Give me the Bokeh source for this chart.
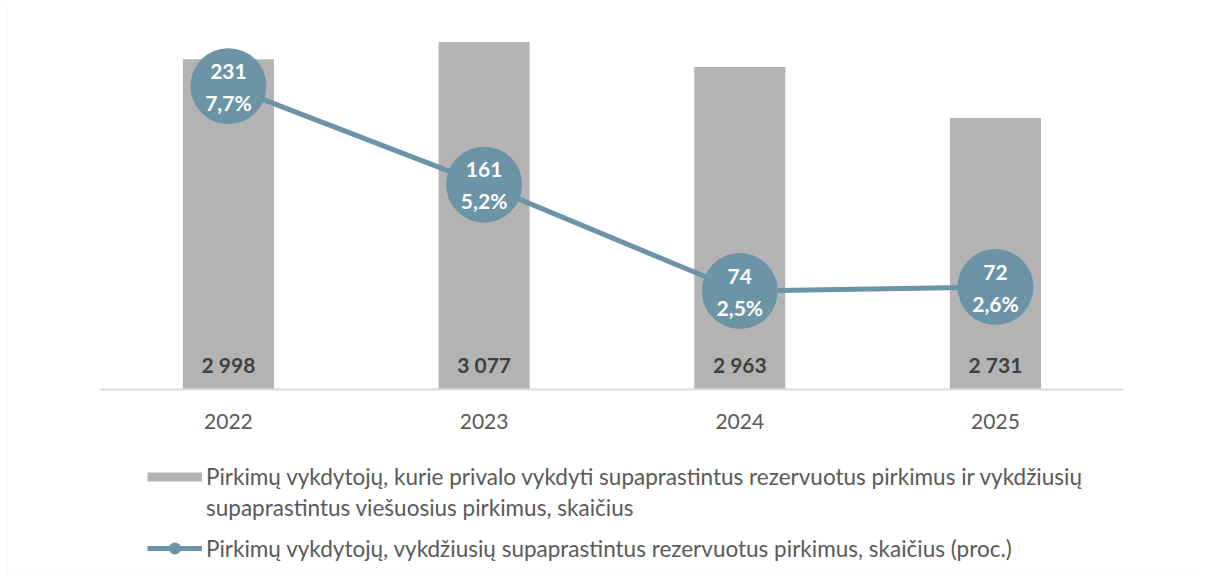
from bokeh.plotting import figure
from bokeh.models import (Range1d, Legend, LegendItem, BoxAnnotation, ColumnDataSource)
from bokeh.embed import file_html
from bokeh.resources import INLINE
from bokeh.core.properties import value

# ---- data ----
years = ["2022", "2023", "2024", "2025"]
buyers_total = [2998, 3077, 2963, 2731]
buyers_reserved = [231, 161, 74, 72]
reserved_pct = [7.7, 5.2, 2.5, 2.6]

bar_label_1 = "Pirkimų vykdytojų, kurie privalo vykdyti supaprastintus rezervuotus pirkimus ir vykdžiusių"
bar_label_2 = "supaprastintus viešuosius pirkimus, skaičius"
line_label = "Pirkimų vykdytojų, vykdžiusių supaprastintus rezervuotus pirkimus, skaičius (proc.)"

# ---- style ----
BAR = "#b3b3b3"
LINE = "#6b94a7"
FONT = "Lato"
W, H = 1199, 573
BASE = 1495                      # bar axis start (baseline)
Y0, Y1 = 657.5, 3238.3           # bar scale (frame covers whole chart box)
P0, P1 = -4.670, 9.721           # percent scale, 0 at baseline
X0, X1 = -0.368, 4.298           # category slots 0..4

pos = [i + 0.5 for i in range(len(years))]

src = ColumnDataSource(dict(
    x=pos,
    year=years,
    total=buyers_total,
    reserved=buyers_reserved,
    pct=reserved_pct,
    total_lbl=[f"{v:,}".replace(",", " ") for v in buyers_total],
    res_lbl=[str(v) for v in buyers_reserved],
    pct_lbl=[f"{v:.1f}".replace(".", ",") + "%" for v in reserved_pct],
    base=[BASE] * len(years),
))

p = figure(width=W, height=H,
           x_range=Range1d(X0, X1), y_range=Range1d(Y0, Y1),
           x_axis_location=None, y_axis_location=None,
           output_backend="svg", toolbar_location=None,
           min_border_left=6, min_border_right=0,
           min_border_top=6, min_border_bottom=0)
p.extra_y_ranges = {"pct": Range1d(P0, P1)}
p.outline_line_color = None
p.xgrid.visible = False
p.ygrid.visible = False
p.background_fill_color = "white"
p.border_fill_color = "white"

# chart box border (top and left edges visible)
border = BoxAnnotation(left=0, right=W + 20, top=0, bottom=H + 20,
                       left_units="screen", right_units="screen",
                       top_units="screen", bottom_units="screen",
                       fill_alpha=0, line_color="#d9d9d9", line_width=2)
p.add_layout(border)

bars = p.vbar(x="x", top="total", bottom="base", width=0.356, source=src,
              fill_color=BAR, line_color=None)

# category axis baseline
p.segment(x0=[0], x1=[len(years)], y0=[BASE], y1=[BASE],
          line_color="#d9d9d9", line_width=2)

# category labels
p.text(x="x", y="base", text="year", source=src, y_offset=32,
       text_align="center", text_baseline="middle",
       text_font=value(FONT), text_font_size="21px", text_color="#595959")

# bar value labels
p.text(x="x", y="base", text="total_lbl", source=src, y_offset=-25,
       text_align="center", text_baseline="middle",
       text_font=value(FONT), text_font_size="21px", text_font_style="bold",
       text_color="#404040")

ln = p.line(x="x", y="pct", source=src, y_range_name="pct",
            line_color=LINE, line_width=5)
dots = p.scatter(x="x", y="pct", source=src, y_range_name="pct",
                 size=76, fill_color=LINE, line_color=None)

p.text(x="x", y="pct", text="res_lbl", source=src, y_range_name="pct",
       y_offset=-15, text_align="center", text_baseline="middle",
       text_font=value(FONT), text_font_size="21px", text_font_style="bold",
       text_color="white")
p.text(x="x", y="pct", text="pct_lbl", source=src, y_range_name="pct",
       y_offset=16, text_align="center", text_baseline="middle",
       text_font=value(FONT), text_font_size="21px", text_font_style="bold",
       text_color="white")

# legend proxies (a single empty point, not visible in the plot)
nan = float("nan")
bar_proxy = p.line(x=[nan], y=[nan], line_color=BAR, line_width=9, line_cap="butt")
blank_proxy = p.line(x=[nan], y=[nan], line_alpha=0)


def style_legend(lg, h):
    lg.border_line_color = None
    lg.background_fill_alpha = 0
    lg.padding = 0
    lg.margin = 0
    lg.label_text_font = FONT
    lg.label_text_font_size = "22.5px"
    lg.label_text_color = "#595959"
    lg.glyph_width = 55
    lg.glyph_height = h
    lg.label_height = h
    lg.label_standoff = 4
    lg.spacing = 4


legA = Legend(items=[LegendItem(label=bar_label_1, renderers=[bar_proxy]),
                     LegendItem(label=bar_label_2, renderers=[blank_proxy])],
              location=(141, 52.5))
style_legend(legA, 27)
legB = Legend(items=[LegendItem(label=line_label, renderers=[ln, dots])],
              location=(141, 10))
style_legend(legB, 30)
p.add_layout(legA, "center")
p.add_layout(legB, "center")

open("out.html", "w").write(file_html(p, INLINE))
